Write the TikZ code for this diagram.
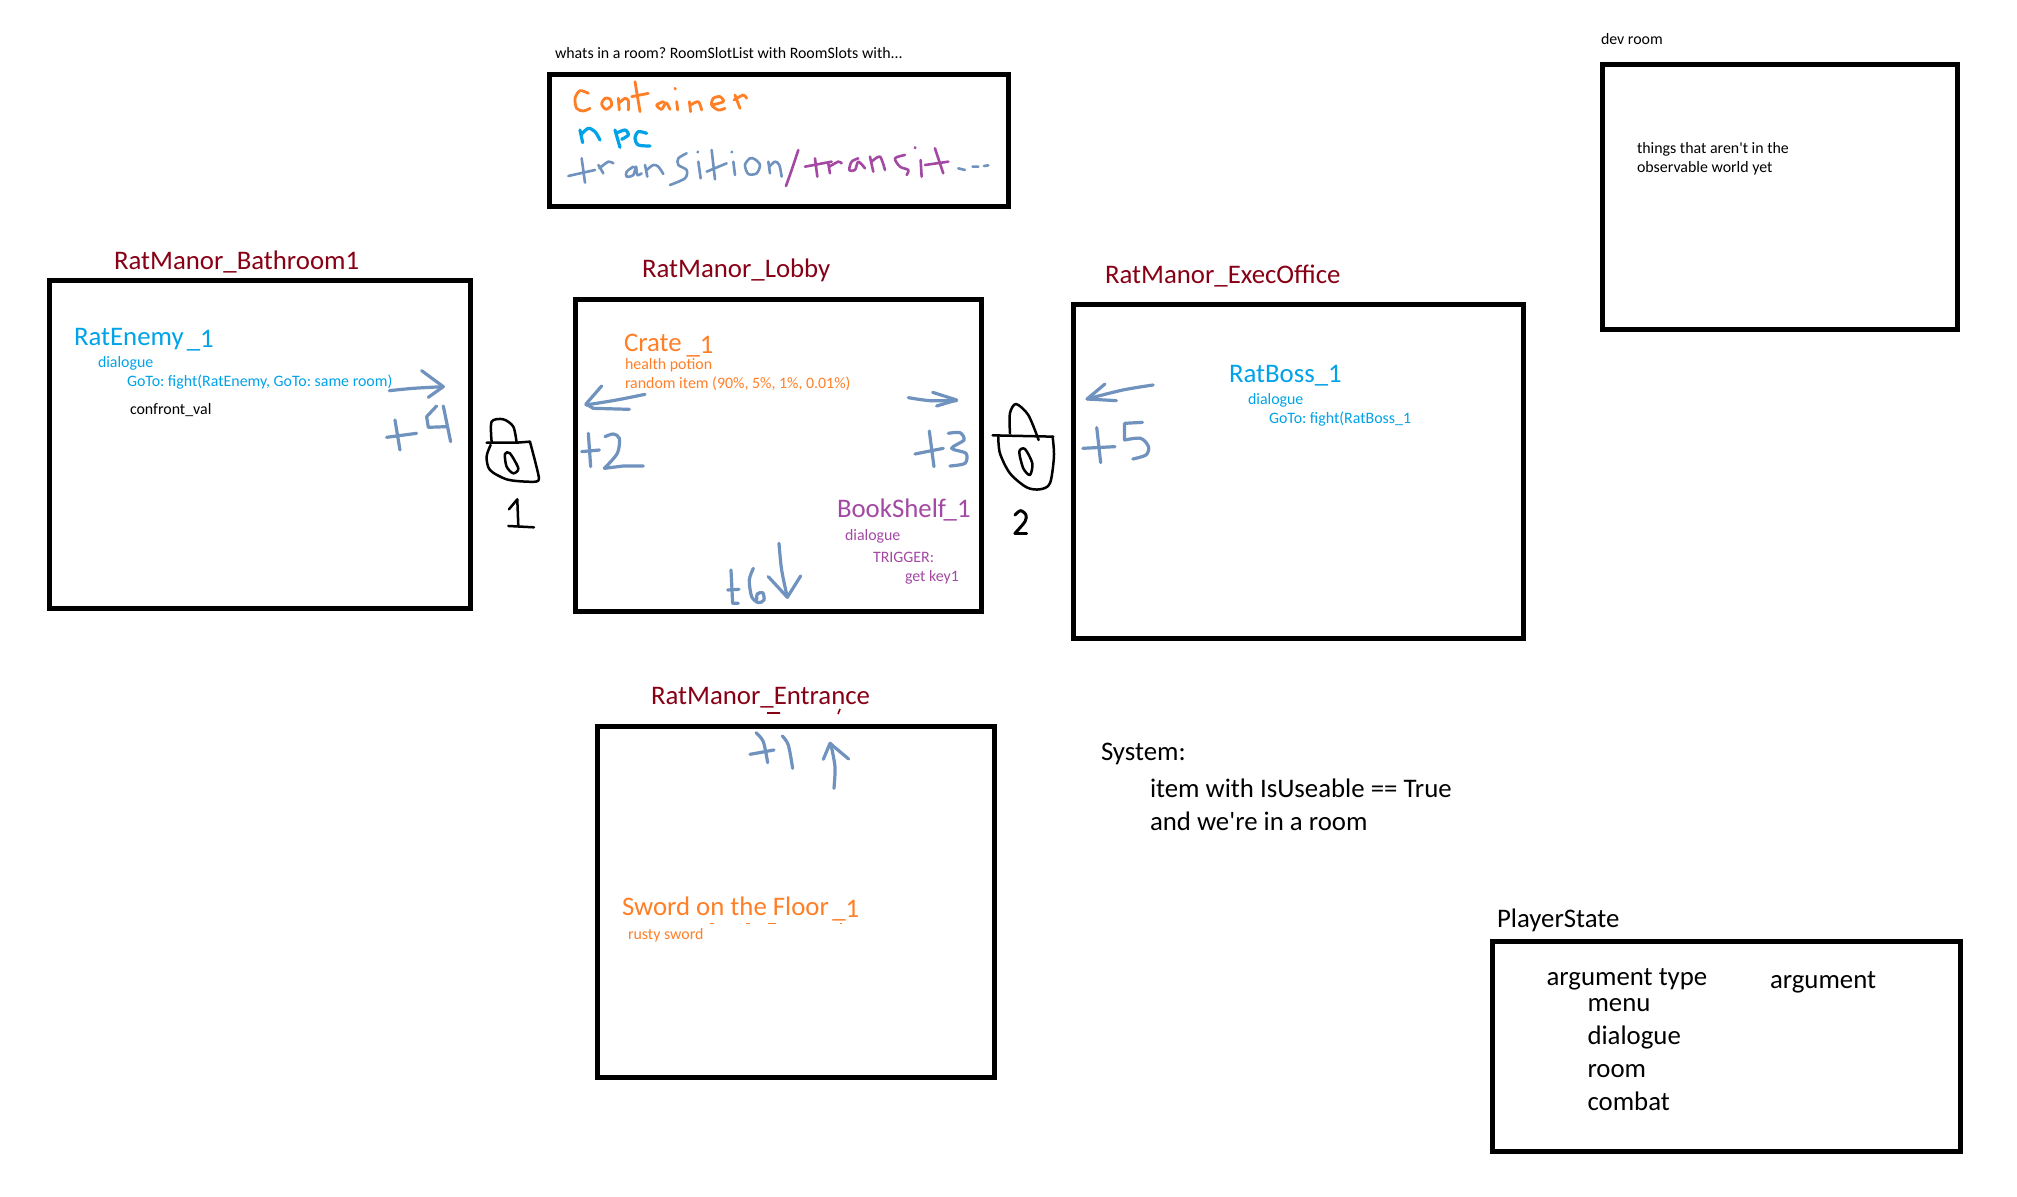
\documentclass[tikz,border=0pt]{standalone}
\usepackage{fontspec}
\newfontfamily\carl{Carlito}
\definecolor{titlered}{HTML}{880015}
\definecolor{npcblue}{HTML}{00A2E8}
\definecolor{contorange}{HTML}{FF7F27}
\definecolor{shelfpurple}{HTML}{A349A4}
\definecolor{steel}{HTML}{7092BE}
\newcommand{\lowone}{\raisebox{-1.4pt}{\_1}}
\tikzset{
  room/.style={draw=black,line width=2.33pt,fill=white,miter limit=10},
  lab/.style={anchor=base west,inner sep=0pt,outer sep=0pt},
  big/.style={lab,font=\carl\frenchspacing\fontsize{13.4pt}{14pt}\selectfont},
  roomtitle/.style={big,text=titlered},
  mid/.style={big,text=black},
  small/.style={lab,font=\carl\frenchspacing\fontsize{7.95pt}{9pt}\selectfont},
  pen/.style={line cap=round,line join=round},
  trans/.style={pen,draw=steel,line width=1.6pt},
  lockpen/.style={pen,draw=black,line width=1.25pt},
  inkorange/.style={pen,draw=contorange,line width=1.4pt},
  inkblue/.style={pen,draw=npcblue,line width=1.6pt},
  inksteel/.style={pen,draw=steel,line width=1.3pt},
  inkpurple/.style={pen,draw=shelfpurple,line width=1.3pt},
  zoomA/.style={shift={(530,30)},scale=0.3333},
  zoomB/.style={shift={(30,240)},scale=0.3333},
  zoomC/.style={shift={(560,250)},scale=0.3333},
  zoomD/.style={shift={(980,250)},xscale=0.357,yscale=0.3333},
  zoomE/.style={shift={(590,670)},scale=0.3333},
}
\begin{document}
\begin{tikzpicture}[x=0.5pt,y=-0.5pt]
\useasboundingbox (0,0) rectangle (2017,1196);
\fill[white] (0,0) rectangle (2017,1196);

% boxes
\draw[room] (549.5,74.5) rectangle (1008.5,206.5);
\draw[room] (49.5,280.5) rectangle (470.5,608.5);
\draw[room] (575.5,299.5) rectangle (981.5,611.5);
\draw[room] (1073.5,304.5) rectangle (1523.5,638.5);
\draw[room] (597.5,726.5) rectangle (994.5,1077.5);
\draw[room] (1492.5,941.5) rectangle (1960.5,1151.5);
\draw[room] (1602.5,64.5) rectangle (1957.5,329.5);

% top labels
\node[small] (q) at (555,58) {whats in a room? RoomSlotList with RoomSlots with...};
\node[small] (dev) at (1601,44) {dev room};
\node[small] (dev1) at (1637,153) {things that aren't in the};
\node[small] (dev2) at (1637,172) {observable world yet};

% room titles
\node[roomtitle] (tb) at (114,269) {RatManor\_Bathroom1};
\node[roomtitle] (tl) at (642,277) {RatManor\_Lobby};
\node[roomtitle] (te) at (1105,283) {RatManor\_ExecOffice};
\node[roomtitle] (tn) at (651,704) {RatManor\_Entrance};

% bathroom
\node[big,text=npcblue] (re) at (74,345) {RatEnemy\hspace{1.6pt}\lowone};
\node[small,text=npcblue] (re1) at (98,367) {dialogue};
\node[small,text=npcblue] (re2) at (127,386) {GoTo: fight(RatEnemy, GoTo: same room)};
\node[small,text=black] (re3) at (130,414) {confront\_val};

% lobby
\node[big,text=contorange] (cr) at (624,351) {Crate\hspace{2.4pt}\lowone};
\node[small,text=contorange] (cr1) at (625,369) {health potion};
\node[small,text=contorange] (cr2) at (625,388) {random item (90\%, 5\%, 1\%, 0.01\%)};
\node[big,text=shelfpurple] (bs) at (837,517) {BookShelf\kern-1.2pt\_1};
\node[small,text=shelfpurple] (bs1) at (845,540) {dialogue};
\node[small,text=shelfpurple] (bs2) at (873,562) {TRIGGER:};
\node[small,text=shelfpurple] (bs3) at (905,581) {get key1};

% exec office
\node[big,text=npcblue] (rb) at (1229,382) {RatBoss\_1};
\node[small,text=npcblue] (rb1) at (1248,404) {dialogue};
\node[small,text=npcblue] (rb2) at (1269,423) {GoTo: fight(RatBoss\_1};

% entrance
\node[big,text=contorange] (sw) at (622,915) {Sword on the Floor\hspace{1.6pt}\lowone};
\node[small,text=contorange] (sw1) at (628,939) {rusty sword};

% system
\node[mid] (sy) at (1101,760) {System:};
\node[mid] (sy1) at (1150,797) {item with IsUseable == True};
\node[mid] (sy2) at (1150,830) {and we're in a room};

% player state
\node[mid] (ps) at (1497,927) {PlayerState};
\node[mid] (ps1) at (1546.6,985) {argument type};
\node[mid] (ps2) at (1770,988) {argument};
\node[mid] (ps3) at (1587.5,1011) {menu};
\node[mid] (ps4) at (1587.5,1044) {dialogue};
\node[mid] (ps5) at (1587.5,1077) {room};
\node[mid] (ps6) at (1587.5,1110) {combat};

% stray marks of the paint edits
\draw[titlered,line width=0.8pt] (767,713) -- (780,713) (840,709) -- (838,714);
\draw[contorange,line width=0.4pt] (710,923) -- (714,923) (746,923) -- (750,923) (768,923) -- (776,923) (840,923) -- (842,923);

% handwriting in the slot box
\begin{scope}[zoomA]
\draw[inkorange] plot[smooth] coordinates {(175,190)(150,182)(135,205)(140,235)(160,243)(180,235)};
\draw[inkorange] plot[smooth cycle] coordinates {(225,205)(215,222)(228,238)(245,225)(240,207)};
\draw[inkorange] (265,205) -- (268,240) plot[smooth] coordinates {(268,218)(285,205)(295,212)(295,240)};
\draw[inkorange] (315,155) -- (330,245) (305,200) -- (355,190);
\draw[inkorange] plot[smooth] coordinates {(400,215)(380,225)(395,238)(408,218)(420,238)};
\draw[inkorange] (435,175) -- (436,177) (440,215) -- (443,240);
\draw[inkorange] (478,215) -- (482,245) plot[smooth] coordinates {(482,225)(505,215)(515,240)};
\draw[inkorange] plot[smooth] coordinates {(545,225)(580,215)(570,200)(550,205)(545,225)(565,240)(585,235)};
\draw[inkorange] (615,195) -- (630,235) plot[smooth] coordinates {(612,210)(640,195)(650,205)};
\draw[inkblue] (150,300) -- (158,338) plot[smooth] coordinates {(155,312)(175,295)(195,305)(210,330)};
\draw[inkblue] (255,300) -- (270,352) plot[smooth] coordinates {(258,310)(285,300)(295,315)(275,328)};
\draw[inkblue] plot[smooth] coordinates {(350,310)(325,305)(315,325)(325,345)(360,348)};
\draw[inksteel] (115,438) -- (195,420) (155,385) -- (165,458);
\draw[inksteel] (205,405) -- (220,430) plot[smooth] coordinates {(208,415)(235,395)(250,400)};
\draw[inksteel] plot[smooth] coordinates {(310,410)(290,425)(290,440)(310,435)(318,410)(322,435)(335,430)};
\draw[inksteel] (345,405) -- (352,440) plot[smooth] coordinates {(350,420)(370,405)(385,410)(400,432)};
\draw[inksteel] plot[smooth] coordinates {(470,370)(445,385)(445,405)(470,420)(465,445)(420,465)};
\draw[inksteel] (505,395) -- (512,445) (503,365) -- (504,367);
\draw[inksteel] (530,425) -- (590,400) (545,360) -- (555,448);
\draw[inksteel] (610,395) -- (615,435) (605,365) -- (606,367);
\draw[inksteel] plot[smooth cycle] coordinates {(660,385)(645,405)(655,432)(680,430)(690,405)(675,388)};
\draw[inksteel] (715,395) -- (720,430) plot[smooth] coordinates {(718,410)(735,395)(748,405)(755,440)};
\draw[inkpurple] plot[smooth] coordinates {(805,360)(785,420)(768,468)};
\draw[inkpurple] (825,410) -- (905,395) (855,385) -- (862,440);
\draw[inkpurple] (895,400) -- (900,430) plot[smooth] coordinates {(898,410)(925,395)(935,400)};
\draw[inkpurple] plot[smooth] coordinates {(985,385)(965,395)(958,420)(975,420)(985,395)(1005,415)};
\draw[inkpurple] (1020,380) -- (1030,425) plot[smooth] coordinates {(1025,395)(1050,380)(1065,420)};
\draw[inkpurple] plot[smooth] coordinates {(1125,375)(1095,385)(1110,410)(1135,420)(1130,435)};
\draw[inkpurple] (1172,390) -- (1175,440) (1155,352) -- (1156,354);
\draw[inkpurple] (1215,355) -- (1240,430) (1185,405) -- (1255,395);
\draw[inksteel] (1285,415) -- (1305,420) (1328,410) -- (1345,410) (1362,408) -- (1375,406);
\end{scope}

% bathroom handwriting
\begin{scope}[zoomB]
\draw[trans] plot[smooth] coordinates {(1078,452)(1150,445)(1240,440)};
\draw[trans] (1175,392) -- (1240,440) -- (1195,472);
\draw[trans] (1070,592) -- (1160,580) (1095,540) -- (1110,630);
\draw[trans] (1220,498) -- (1190,530) -- (1195,562) -- (1250,560);
\draw[trans] (1240,498) -- (1262,605);
\draw[lockpen] plot[smooth] coordinates {(1385,605)(1385,545)(1420,538)(1450,560)(1460,608)};
\draw[lockpen] (1370,608) -- (1460,608) -- (1500,605);
\draw[lockpen] plot[smooth] coordinates {(1382,615)(1370,650)(1380,690)(1430,718)(1490,725)(1525,722)(1522,690)(1500,605)};
\draw[lockpen] plot[smooth cycle] coordinates {(1425,642)(1440,640)(1465,685)(1450,700)(1430,680)};
\draw[lockpen] (1437,808) -- (1462,778) -- (1465,855) (1435,858) -- (1512,862);
\end{scope}

% lobby handwriting
\begin{scope}[zoomC]
\draw[trans] plot[smooth] coordinates {(255,433)(170,450)(78,465)};
\draw[trans] (125,408) -- (78,462) -- (100,475) -- (208,478);
\draw[trans] (65,605) -- (118,600) (85,550) -- (92,650);
\draw[trans] plot[smooth] coordinates {(135,560)(160,552)(178,565)(172,610)(133,655)};
\draw[trans] (133,655) -- (190,648) -- (250,648);
\draw[trans] plot[smooth] coordinates {(1045,443)(1110,452)(1190,452)};
\draw[trans] (1118,427) -- (1190,450) -- (1130,468);
\draw[trans] (1065,612) -- (1150,595) (1108,543) -- (1122,650);
\draw[trans] plot[smooth] coordinates {(1165,550)(1200,548)(1212,570)(1175,595)(1218,610)(1215,640)(1170,648)};
\draw[trans] plot[smooth] coordinates {(657,880)(665,960)(682,1042)};
\draw[trans] (625,980) -- (682,1042) -- (722,978);
\draw[trans] (503,1020) -- (537,1018) (513,960) -- (518,1060) -- (535,1060);
\draw[trans] plot[smooth] coordinates {(580,955)(568,990)(575,1040)(595,1058)(612,1050)(608,1028)(592,1032)(590,1050)};
\draw[lockpen] plot[smooth] coordinates {(1350,550)(1350,490)(1368,462)(1405,495)(1436,570)};
\draw[lockpen] (1298,556) -- (1480,560);
\draw[lockpen] plot[smooth] coordinates {(1315,560)(1320,610)(1350,670)(1400,712)(1440,718)(1470,700)(1482,620)(1478,560)};
\draw[lockpen] plot[smooth cycle] coordinates {(1378,605)(1395,597)(1417,640)(1410,675)(1390,655)};
\draw[lockpen,line width=1.5pt] plot[smooth] coordinates {(1365,795)(1382,782)(1398,795)(1395,815)(1365,850)};
\draw[lockpen,line width=1.5pt] (1365,850) -- (1400,850);
\end{scope}

% exec office handwriting
\begin{scope}[zoomD]
\draw[trans] plot[smooth] coordinates {(485,405)(400,420)(300,447)};
\draw[trans] (350,402) -- (300,447) -- (382,452);
\draw[trans] (288,595) -- (378,590) (327,533) -- (338,638);
\draw[trans] (455,517) -- (405,520) -- (405,570);
\draw[trans] plot[smooth] coordinates {(405,570)(450,565)(472,590)(465,615)(428,627)};
\end{scope}

% entrance handwriting
\begin{scope}[zoomE]
\draw[trans] (480,253) -- (552,240);
\draw[trans] plot[smooth] coordinates {(498,188)(520,215)(533,278)};
\draw[trans] plot[smooth] coordinates {(577,198)(595,225)(608,295)};
\draw[trans] plot[smooth] coordinates {(732,355)(735,290)(722,220)};
\draw[trans] (700,268) -- (720,220) -- (776,267);
\end{scope}
\end{tikzpicture}
\end{document}
